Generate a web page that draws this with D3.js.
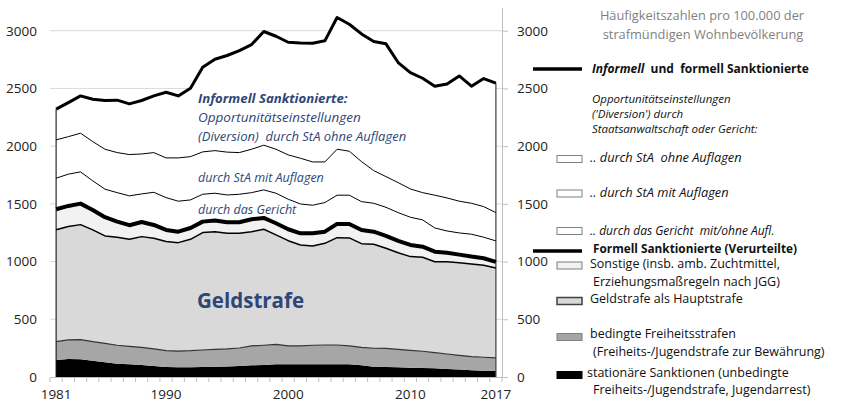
<!DOCTYPE html>
<html>
<head>
<meta charset="utf-8">
<script src="https://cdn.jsdelivr.net/npm/d3@7"></script>
<style>
  body { margin: 0; background: #fff; }
  svg text { font-family: "Open Sans", "Noto Sans", sans-serif; white-space: pre; }
</style>
</head>
<body>
<svg id="chart" width="847" height="405"></svg>
<script>
// Häufigkeitszahlen pro 100.000 strafmündige Einwohner
var years = [1981, 1982, 1983, 1984, 1985, 1986, 1987, 1988, 1989, 1990,
  1991, 1992, 1993, 1994, 1995, 1996, 1997, 1998, 1999, 2000,
  2001, 2002, 2003, 2004, 2005, 2006, 2007, 2008, 2009, 2010,
  2011, 2012, 2013, 2014, 2015, 2016, 2017];

var stationaer = [147, 156, 153, 141, 127, 115, 110, 104, 95, 87,
  84, 84, 87, 89, 92, 95, 101, 104, 110, 110,
  110, 110, 110, 110, 110, 101, 89, 87, 84, 81,
  78, 75, 69, 64, 58, 55, 55];
var bedingt = [159, 165, 170, 165, 165, 160, 156, 153, 148, 141,
  141, 144, 147, 151, 151, 156, 168, 171, 173, 159,
  159, 165, 167, 167, 159, 156, 160, 161, 156, 150,
  145, 136, 130, 124, 118, 116, 110];
var geldstrafe = [969, 982, 997, 968, 930, 936, 927, 959, 959, 945,
  939, 965, 1017, 1019, 1002, 994, 990, 1005, 948, 912,
  875, 860, 881, 930, 936, 898, 901, 867, 837, 812,
  814, 788, 799, 802, 803, 797, 780];
var sonstige = [178, 179, 182, 173, 162, 135, 122, 127, 115, 101,
  95, 98, 95, 96, 95, 95, 107, 98, 101, 99,
  101, 110, 101, 119, 121, 119, 109, 107, 102, 101,
  92, 87, 79, 70, 64, 61, 52];
var gericht = [269, 275, 275, 252, 243, 251, 254, 243, 283, 280,
  264, 243, 237, 237, 237, 243, 231, 243, 260, 260,
  254, 243, 252, 249, 249, 245, 246, 248, 245, 240,
  232, 205, 188, 188, 194, 182, 182];
var staMit = [332, 325, 335, 340, 346, 347, 358, 346, 344, 344,
  375, 375, 367, 369, 371, 361, 376, 387, 381, 384,
  396, 375, 352, 398, 381, 347, 283, 266, 260, 245,
  236, 284, 286, 275, 268, 265, 245];
var staOhne = [266, 295, 323, 367, 422, 454, 439, 463, 491, 569,
  537, 593, 734, 792, 837, 884, 907, 985, 979, 976,
  999, 1028, 1049, 1141, 1100, 1106, 1118, 1150, 1040, 1008,
  991, 944, 988, 1085, 1014, 1109, 1121];

var yTicks = [0, 500, 1000, 1500, 2000, 2500, 3000];
var xLabels = [1981, 1990, 2000, 2010, 2017];

var keys = ["stationaer", "bedingt", "geldstrafe", "sonstige", "gericht", "staMit", "staOhne"];
var fills = {
  stationaer: "#000000", bedingt: "#a6a6a6", geldstrafe: "#d9d9d9",
  sonstige: "#f2f2f2", gericht: "#ffffff", staMit: "#ffffff", staOhne: "#ffffff"
};
var tops = {
  stationaer: null, bedingt: ["#333", 1.2], geldstrafe: ["#000", 1.5],
  sonstige: ["#000", 4], gericht: ["#000", 1], staMit: ["#000", 1], staOhne: ["#000", 3]
};

var data = years.map(function(yr, i) {
  return { year: yr, stationaer: stationaer[i], bedingt: bedingt[i], geldstrafe: geldstrafe[i],
    sonstige: sonstige[i], gericht: gericht[i], staMit: staMit[i], staOhne: staOhne[i] };
});

var svg = d3.select("#chart");
var left = 50, right = 502, bottom = 377;

var x = d3.scaleBand().domain(years).range([left, right]);
var cx = function(yr) { return x(yr) + x.bandwidth() / 2; };
var y = d3.scaleLinear().domain([0, 3200]).range([bottom, 7.6]);

// gridlines
svg.append("g").selectAll("line").data(yTicks.slice(1)).enter().append("line")
  .attr("x1", left).attr("x2", right)
  .attr("y1", function(d) { return y(d); }).attr("y2", function(d) { return y(d); })
  .attr("stroke", "#d9d9d9").attr("stroke-width", 1);

var series = d3.stack().keys(keys)(data);

var area = d3.area()
  .x(function(d) { return cx(d.data.year); })
  .y0(function(d) { return y(d[0]); })
  .y1(function(d) { return y(d[1]); });
var topLine = d3.line()
  .x(function(d) { return cx(d.data.year); })
  .y(function(d) { return y(d[1]); });

svg.append("g").selectAll("path").data(series).enter().append("path")
  .attr("d", area)
  .attr("fill", function(d) { return fills[d.key]; });

// vertical edges at both ends
var last = series[series.length - 1];
svg.append("line")
  .attr("x1", cx(years[0])).attr("x2", cx(years[0]))
  .attr("y1", y(0)).attr("y2", y(last[0][1]))
  .attr("stroke", "#000").attr("stroke-width", 1);
svg.append("line")
  .attr("x1", cx(years[years.length - 1])).attr("x2", cx(years[years.length - 1]))
  .attr("y1", y(0)).attr("y2", y(last[last.length - 1][1]))
  .attr("stroke", "#404040").attr("stroke-width", 1.2);

svg.append("g").selectAll("path").data(series.filter(function(s) { return tops[s.key]; }))
  .enter().append("path")
  .attr("d", topLine)
  .attr("fill", "none")
  .attr("stroke", function(d) { return tops[d.key][0]; })
  .attr("stroke-width", function(d) { return tops[d.key][1]; })
  .attr("stroke-linejoin", "round");

// x axis
var xAxis = svg.append("g").attr("transform", "translate(0," + bottom + ")")
  .call(d3.axisBottom(x).tickValues(xLabels).tickSize(0).tickPadding(12));
xAxis.select(".domain").attr("stroke", "#bfbfbf");
xAxis.selectAll("text").attr("font-size", 13.5).attr("fill", "#222");
svg.append("g").selectAll("line").data(years.concat(["end"])).enter().append("line")
  .attr("x1", function(d) { return d === "end" ? right : x(d); })
  .attr("x2", function(d) { return d === "end" ? right : x(d); })
  .attr("y1", bottom).attr("y2", bottom + 5)
  .attr("stroke", "#bfbfbf");

// y axes
var fmt = d3.format("d");
var yLeft = svg.append("g").attr("transform", "translate(" + left + ",0)")
  .call(d3.axisLeft(y).tickValues(yTicks).tickFormat(fmt).tickSize(0).tickPadding(13));
yLeft.select(".domain").remove();
yLeft.selectAll("text").attr("font-size", 13.5).attr("fill", "#222");

var yRight = svg.append("g").attr("transform", "translate(" + right + ",0)")
  .call(d3.axisRight(y).tickValues(yTicks).tickFormat(fmt).tickSize(6).tickSizeOuter(0).tickPadding(9));
yRight.select(".domain").attr("stroke", "#bfbfbf");
yRight.selectAll(".tick line").attr("stroke", "#bfbfbf");
yRight.selectAll("text").attr("font-size", 13.5).attr("fill", "#222");

// annotations in the chart
var blue = "#2e4677";
function note(tx, ty, str, size, weight, style) {
  svg.append("text").attr("x", tx).attr("y", ty).attr("dy", "0.35em")
    .attr("font-size", size).attr("font-weight", weight).attr("font-style", style)
    .attr("fill", blue).text(str);
}
note(198, 98, "Informell Sanktionierte:", 13.2, "bold", "italic");
note(198, 117, "Opportunitätseinstellungen", 13.5, "normal", "italic");
note(198, 136, "(Diversion)  durch StA ohne Auflagen", 13, "normal", "italic");
note(198, 178, "durch StA mit Auflagen", 12.5, "normal", "italic");
note(198, 210, "durch das Gericht", 12.5, "normal", "italic");
note(197, 301, "Geldstrafe", 20.5, "bold", "normal");

// legend
var lg = svg.append("g");
function ltext(tx, ty, str, size, weight, style, color, anchor) {
  return lg.append("text").attr("x", tx).attr("y", ty).attr("dy", "0.35em")
    .attr("font-size", size).attr("font-weight", weight || "normal")
    .attr("font-style", style || "normal").attr("fill", color || "#111")
    .attr("text-anchor", anchor || "start").text(str);
}
function lbox(by, fill, stroke, sw) {
  lg.append("rect").attr("x", 557).attr("y", by - 3.5).attr("width", 25).attr("height", 7)
    .attr("fill", fill).attr("stroke", stroke).attr("stroke-width", sw);
}
function lline(ly) {
  lg.append("line").attr("x1", 533).attr("x2", 582).attr("y1", ly).attr("y2", ly)
    .attr("stroke", "#000").attr("stroke-width", 3.5);
}

ltext(702, 16, "Häufigkeitszahlen pro 100.000 der", 12.8, "normal", "normal", "#7f7f7f", "middle");
ltext(703, 35, "strafmündigen Wohnbevölkerung", 12.8, "normal", "normal", "#7f7f7f", "middle");

lline(69);
var t1 = ltext(592, 69, "", 12, "bold");
t1.append("tspan").attr("font-style", "italic").text("Informell");
t1.append("tspan").text("  und  formell Sanktionierte");

ltext(592, 99, "Opportunitätseinstellungen", 11.5, "normal", "italic");
ltext(592, 114, "('Diversion') durch", 11.5, "normal", "italic");
ltext(592, 129, "Staatsanwaltschaft oder Gericht:", 11.5, "normal", "italic");

lbox(159, "#fff", "#7f7f7f", 1);
ltext(590, 158, ".. durch StA  ohne Auflagen", 12.8, "normal", "italic");
lbox(193.5, "#fff", "#7f7f7f", 1);
ltext(590, 193, ".. durch StA mit Auflagen", 12.8, "normal", "italic");
lbox(231, "#fff", "#7f7f7f", 1);
ltext(590, 231, ".. durch das Gericht  mit/ohne Aufl.", 12, "normal", "italic");

lline(251);
ltext(593, 249, "Formell Sanktionierte (Verurteilte)", 11.8, "bold");

lbox(265.5, "#f2f2f2", "#7f7f7f", 1);
ltext(590, 264, "Sonstige (insb. amb. Zuchtmittel,", 12.5);
ltext(593, 282, "Erziehungsmaßregeln nach JGG)", 12.5);
lbox(301, "#d9d9d9", "#404040", 1.5);
ltext(590, 299, "Geldstrafe als Hauptstrafe", 12.5);
lbox(337, "#a6a6a6", "#7f7f7f", 1);
ltext(590, 334, "bedingte Freiheitsstrafen", 12.5);
ltext(593, 352, "(Freiheits-/Jugendstrafe zur Bewährung)", 12.5);
lbox(375, "#000", "#000", 1);
ltext(587, 373, "stationäre Sanktionen (unbedingte", 12.5);
ltext(593, 390, "Freiheits-/Jugendstrafe, Jugendarrest)", 12.5);
</script>
</body>
</html>
